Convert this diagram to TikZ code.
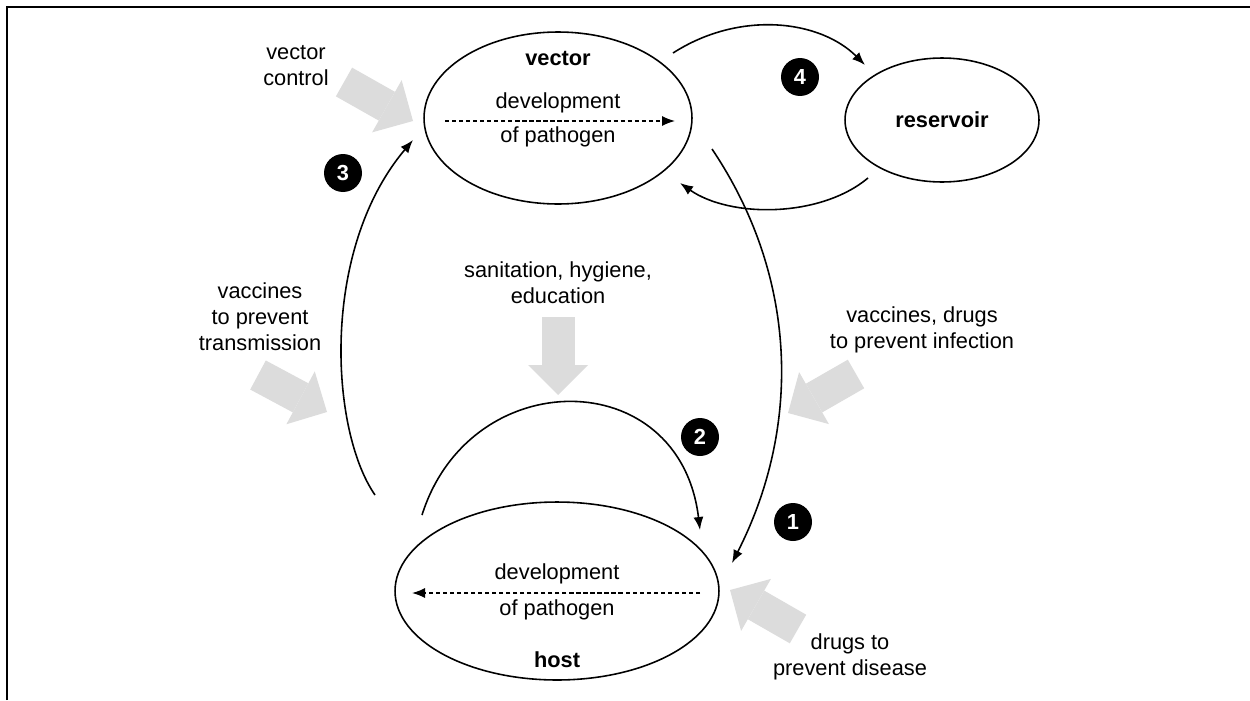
\documentclass[tikz,border=0pt]{standalone}
\usepackage{fontspec}
\setmainfont{Liberation Sans}
\usetikzlibrary{arrows.meta}
\usetikzlibrary{calc}
\usetikzlibrary{shapes.geometric}

\definecolor{blockgray}{HTML}{DCDCDC}
\newcommand\labelfont{\fontsize{12.4}{14.8}\selectfont}

\tikzset{
  stage/.style={draw,ellipse,line width=0.9pt,inner sep=0pt,outer sep=0pt},
  num/.style={circle,fill=black,text=white,font=\labelfont\bfseries,inner sep=0pt,minimum size=0.76cm},
  lbl/.style={align=center},
  title/.style={font=\labelfont\bfseries},
  conn/.style={line width=0.9pt,-{Latex[length=2.6mm,width=2mm]}},
  devel/.style={line width=0.8pt,dash pattern=on 2.4pt off 1.6pt,-{Latex[length=2.6mm,width=2mm]}},
  block/.style={blockgray,line width=0.66cm,-{Triangle[length=0.6cm,width=1.2cm,line width=0pt]}}
}

\begin{document}
\begin{tikzpicture}[x=0.02cm,y=-0.02cm,font=\labelfont]
\useasboundingbox (0,0) rectangle (1250,700);
\draw[line width=1.2pt] (7,700) -- (7,7) -- (1250,7);

% the three stages
\node[stage,minimum width=5.36cm,minimum height=3.44cm] (vector) at (558,118) {};
\node[stage,minimum width=3.88cm,minimum height=2.48cm] (reservoir) at (942,120) {};
\node[stage,minimum width=6.48cm,minimum height=3.56cm] (host) at (557,591) {};

\node[title] (Tv) at ($(vector)+(0,-60)$) {vector};
\node (Tv1) at ($(vector)+(0,-15)$) {development};
\node (Tv2) at ($(vector)+(0,19)$) {of pathogen};
\draw[devel] ($(vector)+(-113,3)$) -- ($(vector)+(117,3)$);

\node[title] (Tr) at (reservoir) {reservoir};

\node (Th1) at ($(host)+(0,-17)$) {development};
\node (Th2) at ($(host)+(0,19)$) {of pathogen};
\node[title] (Th) at ($(host)+(0,69)$) {host};
\draw[devel] ($(host)+(143,2)$) -- ($(host)+(-145,2)$);

% transmission routes
\draw[conn] ($(vector)+(154,31)$) .. controls +(88,131) and +(68,-133) .. ($(host)+(175,-28)$);
\draw[conn] ($(host)+(-135,-76)$) .. controls +(48,-152) and +(-20,-167) .. ($(host)+(143,-61)$);
\draw[conn] ($(host)+(-182,-96)$) .. controls +(-45,-65) and +(-93,110) .. ($(vector)+(-145,22)$);
\draw[conn] ($(vector)+(115,-65)$) .. controls +(67,-43) and +(-45,-45) .. ($(reservoir)+(-77,-55)$);
\draw[conn] ($(reservoir)+(-74,58)$) .. controls +(-48,40) and +(50,35) .. ($(vector)+(122,65)$);

\node[num] (N1) at (793,522) {1};
\node[num] (N2) at (700,437) {2};
\node[num] (N3) at (343,173) {3};
\node[num] (N4) at (800,77) {4};

% interventions
\node[lbl] (VC) at (296,66) {vector\\control};
\node[lbl] (VT) at (260,317) {vaccines\\to prevent\\transmission};
\node[lbl] (SH) at (558,283) {sanitation, hygiene,\\education};
\node[lbl] (VD) at (922,330) {vaccines, drugs\\to prevent infection};
\node[lbl] (DD) at (850,657) {drugs to\\prevent disease};

\coordinate (B1) at (344,82);  \coordinate (B1t) at (413,121);
\coordinate (B2) at (258,375); \coordinate (B2t) at (327,412);
\coordinate (B3) at (558,317); \coordinate (B3t) at (558,395);
\coordinate (B4) at (856,374); \coordinate (B4t) at (788,413);
\coordinate (B5) at (798,629); \coordinate (B5t) at (730,590);
\draw[block] (B1) -- (B1t);
\draw[block] (B2) -- (B2t);
\draw[block] (B3) -- (B3t);
\draw[block] (B4) -- (B4t);
\draw[block] (B5) -- (B5t);
\end{tikzpicture}
\end{document}
